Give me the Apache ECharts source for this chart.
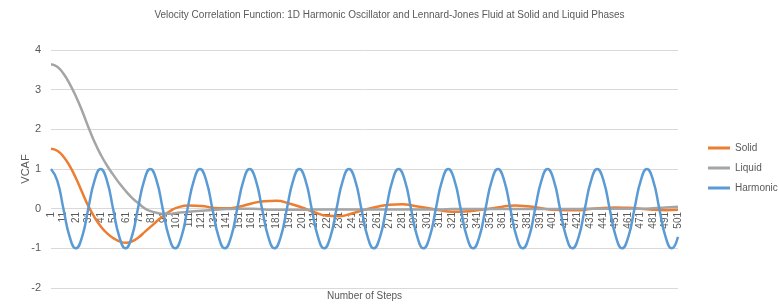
<!DOCTYPE html>
<html>
<head>
<meta charset="utf-8">
<script src="https://cdn.jsdelivr.net/npm/echarts@6/dist/echarts.min.js"></script>
<style>
  html, body { margin: 0; padding: 0; background: #fff; }
  #chart { width: 779px; height: 305px; }
</style>
</head>
<body>
<div id="chart"></div>
<script>
// x axis tick labels (step numbers)
var xTicks = [1, 11, 21, 31, 41, 51, 61, 71, 81, 91, 101, 111, 121, 131, 141, 151, 161, 171, 181, 191,
  201, 211, 221, 231, 241, 251, 261, 271, 281, 291, 301, 311, 321, 331, 341, 351, 361, 371, 381, 391,
  401, 411, 421, 431, 441, 451, 461, 471, 481, 491, 501];

var steps = [1, 6, 11, 16, 21, 26, 31, 36, 41, 46, 51, 56, 61, 66, 71, 76, 81, 86, 91, 96, 101,
  111, 121, 131, 141, 151, 161, 171, 181, 191, 201, 211, 221, 231, 241, 251, 261, 271, 281, 291,
  301, 311, 321, 331, 341, 351, 361, 371, 381, 391, 401, 411, 421, 431, 441, 451, 461, 471, 481, 491, 501];

var solid = [1.51, 1.46, 1.31, 1.07, 0.76, 0.40, 0.05, -0.23, -0.46, -0.63, -0.75, -0.83, -0.86, -0.82, -0.72, -0.58, -0.44, -0.30, -0.17, -0.06, 0.02,
  0.08, 0.07, 0.02, 0.01, 0.05, 0.13, 0.19, 0.20, 0.13, 0.03, -0.09, -0.18, -0.19, -0.12, -0.03, 0.05, 0.10, 0.11, 0.07,
  0.02, -0.04, -0.08, -0.07, -0.04, 0.00, 0.05, 0.08, 0.06, 0.02, -0.03, -0.04, -0.04, -0.01, 0.02, 0.03, 0.02, 0.00, -0.03, -0.04, -0.03];

var liquid = [3.64, 3.58, 3.40, 3.14, 2.82, 2.45, 2.04, 1.66, 1.34, 1.07, 0.84, 0.62, 0.43, 0.26, 0.13, 0.00, -0.07, -0.11, -0.13, -0.13, -0.11,
  -0.08, -0.05, -0.03, -0.01, 0.00, 0.00, -0.02, -0.03, -0.03, -0.03, -0.02, -0.02, -0.02, -0.02, -0.02, -0.02, -0.02, -0.02, -0.02,
  -0.02, -0.02, -0.01, -0.01, -0.01, -0.01, -0.01, -0.01, -0.01, -0.01, -0.01, -0.01, -0.01, 0.00, 0.00, 0.00, 0.00, 0.00, 0.01, 0.03, 0.05];

// harmonic oscillator, read at eighth-period points
var harmonicSteps = [1, 6.0, 10.9, 15.9, 20.8, 25.8, 30.7, 35.7, 40.6, 45.6, 50.5, 55.5, 60.4, 65.4, 70.3, 75.3,
  80.2, 85.2, 90.1, 95.1, 100, 105, 109.9, 114.9, 119.8, 124.8, 129.7, 134.7, 139.6, 144.6, 149.5, 154.5,
  159.4, 164.4, 169.3, 174.3, 179.2, 184.2, 189.1, 194.1, 199, 204, 208.9, 213.9, 218.8, 223.8, 228.7, 233.7,
  238.6, 243.6, 248.5, 253.5, 258.4, 263.4, 268.3, 273.3, 278.2, 283.2, 288.1, 293.1, 298, 303, 307.9, 312.9,
  317.8, 322.8, 327.7, 332.7, 337.6, 342.6, 347.5, 352.5, 357.4, 362.4, 367.3, 372.3, 377.2, 382.2, 387.1, 392.1,
  397, 402, 406.9, 411.9, 416.8, 421.8, 426.7, 431.7, 436.6, 441.6, 446.5, 451.5, 456.4, 461.4, 466.3, 471.3,
  476.2, 481.2, 486.1, 491.1, 496, 501];
var harmonic = [
  1, 0.71, 0, -0.71, -1, -0.71, 0, 0.71,
  1, 0.71, 0, -0.71, -1, -0.71, 0, 0.71,
  1, 0.71, 0, -0.71, -1, -0.71, 0, 0.71,
  1, 0.71, 0, -0.71, -1, -0.71, 0, 0.71,
  1, 0.71, 0, -0.71, -1, -0.71, 0, 0.71,
  1, 0.71, 0, -0.71, -1, -0.71, 0, 0.71,
  1, 0.71, 0, -0.71, -1, -0.71, 0, 0.71,
  1, 0.71, 0, -0.71, -1, -0.71, 0, 0.71,
  1, 0.71, 0, -0.71, -1, -0.71, 0, 0.71,
  1, 0.71, 0, -0.71, -1, -0.71, 0, 0.71,
  1, 0.71, 0, -0.71, -1, -0.71, 0, 0.71,
  1, 0.71, 0, -0.71, -1, -0.71, 0, 0.71,
  1, 0.71, 0, -0.71, -1, -0.71];

var txt = '#595959';
var font = 'Liberation Sans, Arial, sans-serif';

//把 x,y 拼成点
var toPairs = function(xs, ys) {
  var out = [];
  for (var i = 0; i < xs.length; i++) {
    out.push([xs[i], ys[i]]);
  }
  return out;
};

var makeLine = function(name, color, xs, ys) {
  return {
    name: name,
    type: 'line',
    data: toPairs(xs, ys),
    smooth: true,
    showSymbol: false,
    lineStyle: { color: color, width: 2.5 },
    itemStyle: { color: color }
  };
};

var myChart = echarts.init(document.getElementById('chart'));
var option = {
  animation: false,
  textStyle: { fontFamily: font },
  title: {
    text: 'Velocity Correlation Function: 1D Harmonic Oscillator and Lennard-Jones Fluid at Solid and Liquid Phases',
    left: 'center',
    top: 5,
    textStyle: { fontSize: 10, fontWeight: 'normal', color: txt, fontFamily: font }
  },
  legend: {
    orient: 'vertical',
    left: 708,
    top: 141,
    padding: 0,
    icon: 'rect',
    itemWidth: 22,
    itemHeight: 3,
    itemGap: 6,
    itemTextGap: 3,
    textStyle: { fontSize: 10, color: txt, lineHeight: 14, fontFamily: font },
    data: ['Solid', 'Liquid', 'Harmonic']
  },
  grid: { left: 51, right: 101, top: 50, bottom: 17 },
  xAxis: {
    type: 'value',
    min: 1,
    max: 501,
    z: 3,
    axisLine: { show: false },
    axisTick: { show: false },
    splitLine: { show: false },
    axisLabel: {
      customValues: xTicks,
      rotate: 90,
      // labels sit just under the zero line, like the original
      margin: -76,
      fontSize: 10,
      color: txt,
      fontFamily: font
    }
  },
  yAxis: {
    type: 'value',
    min: -2,
    max: 4,
    interval: 1,
    name: 'VCAF',
    nameLocation: 'middle',
    nameGap: 20,
    nameMoveOverlap: false,
    nameTextStyle: { fontSize: 11, color: txt, fontFamily: font },
    axisLine: { show: false },
    axisTick: { show: false },
    axisLabel: { fontSize: 11, color: txt, margin: 10, fontFamily: font },
    splitLine: { lineStyle: { color: '#d9d9d9', width: 1 } }
  },
  graphic: [{
    type: 'text',
    left: 327,
    top: 291,
    style: { text: 'Number of Steps', fontSize: 10, fill: txt, fontFamily: font }
  }],
  series: [
    makeLine('Solid', '#ed7d31', steps, solid),
    makeLine('Liquid', '#a5a5a5', steps, liquid),
    makeLine('Harmonic', '#5b9bd5', harmonicSteps, harmonic)
  ]
};
myChart.setOption(option);
</script>
</body>
</html>
